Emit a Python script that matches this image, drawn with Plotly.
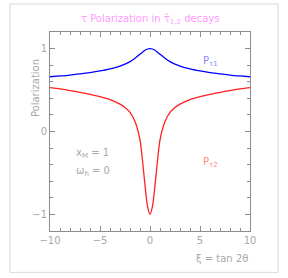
import plotly.graph_objects as go

xi_pos = [0, 0.25, 0.5, 0.75, 1, 1.5, 2, 2.5, 3, 4, 5, 6, 7, 8, 9, 10]
p_tau1_pos = [1.0, 0.995, 0.98, 0.957, 0.932, 0.883, 0.842, 0.812, 0.788, 0.754, 0.73, 0.711, 0.695, 0.681, 0.67, 0.66]
p_tau2_pos = [-1.0, -0.9, -0.65, -0.35, -0.1, 0.12, 0.23, 0.29, 0.33, 0.385, 0.42, 0.448, 0.472, 0.494, 0.513, 0.53]

xi = [-v for v in xi_pos[:0:-1]] + xi_pos
p_tau1 = p_tau1_pos[:0:-1] + p_tau1_pos
p_tau2 = p_tau2_pos[:0:-1] + p_tau2_pos

FONT = "DejaVu Sans"
GRAY = "#a8a8a8"
AX = "#8c8c8c"

fig = go.Figure()
fig.add_trace(go.Scatter(x=xi, y=p_tau1, mode="lines",
                         line=dict(color="#0000ff", width=1.3, shape="spline", smoothing=0.8), showlegend=False))
fig.add_trace(go.Scatter(x=xi, y=p_tau2, mode="lines",
                         line=dict(color="#ff2020", width=1.3, shape="spline", smoothing=0.7), showlegend=False))

axis_common = dict(showgrid=False, zeroline=False, showline=True, linecolor=AX, linewidth=1,
                   mirror="ticks", ticks="inside", ticklen=5, tickcolor=AX,
                   tickfont=dict(family=FONT, size=10, color=GRAY))

fig.update_xaxes(range=[-10, 10], tickvals=[-10, -5, 0, 5, 10],
                 ticktext=["\u221210", "\u22125", "0", "5", "10"],
                 minor=dict(ticks="inside", dtick=1, ticklen=3, tickcolor=AX), **axis_common)
fig.update_yaxes(range=[-1.2, 1.2], tickvals=[-1, 0, 1], ticktext=["\u22121", "0", "1"],
                 minor=dict(ticks="inside", dtick=0.2, tick0=0, ticklen=3, tickcolor=AX), **axis_common)

H = 198.7
fig.update_layout(
    width=288, height=278,
    margin=dict(l=50, r=38, t=32, b=47.3),
    paper_bgcolor="white", plot_bgcolor="white",
    shapes=[dict(type="rect", xref="paper", yref="paper", x0=-40/200, x1=228/200,
                 y0=-(272-230.7)/H, y1=(230.7-4)/H,
                 line=dict(color="#d8d8d8", width=1))],
    annotations=[
        dict(text="\u03c4 Polarization in \u03c4\u0303<sub>1,2</sub> decays", xref="paper", yref="paper",
             x=0.5, y=(230.7-20)/H, yanchor="middle", showarrow=False,
             font=dict(family=FONT, size=10, color="#ff99ff")),
        dict(text="Polarization", xref="paper", yref="paper", x=-15/200, y=(230.7-88)/H,
             xanchor="center", yanchor="middle",
             textangle=-90, showarrow=False, font=dict(family=FONT, size=10, color=GRAY)),
        dict(text="\u03be = tan 2\u03b8", xref="paper", yref="paper", x=1.0, xanchor="right",
             y=-(258-230.7)/H, yanchor="middle", showarrow=False, font=dict(family=FONT, size=10, color=GRAY)),
        dict(text="x<sub>M</sub> = 1", xref="x", yref="y", x=-7.6, xanchor="left", y=-0.27,
             showarrow=False, font=dict(family=FONT, size=10, color=GRAY)),
        dict(text="\u03c9<sub>h</sub> = 0", xref="x", yref="y", x=-7.6, xanchor="left", y=-0.48,
             showarrow=False, font=dict(family=FONT, size=10, color=GRAY)),
        dict(text="P<sub>\u03c41</sub>", xref="x", yref="y", x=5.1, xanchor="left", y=0.84,
             showarrow=False, font=dict(family=FONT, size=10, color="#8888ff")),
        dict(text="P<sub>\u03c42</sub>", xref="x", yref="y", x=5.1, xanchor="left", y=-0.37,
             showarrow=False, font=dict(family=FONT, size=10, color="#ff8888")),
    ],
)

fig.write_html("out.html", config={"displayModeBar": False},
               post_script="document.body.style.margin='0';document.body.style.padding='0';")
